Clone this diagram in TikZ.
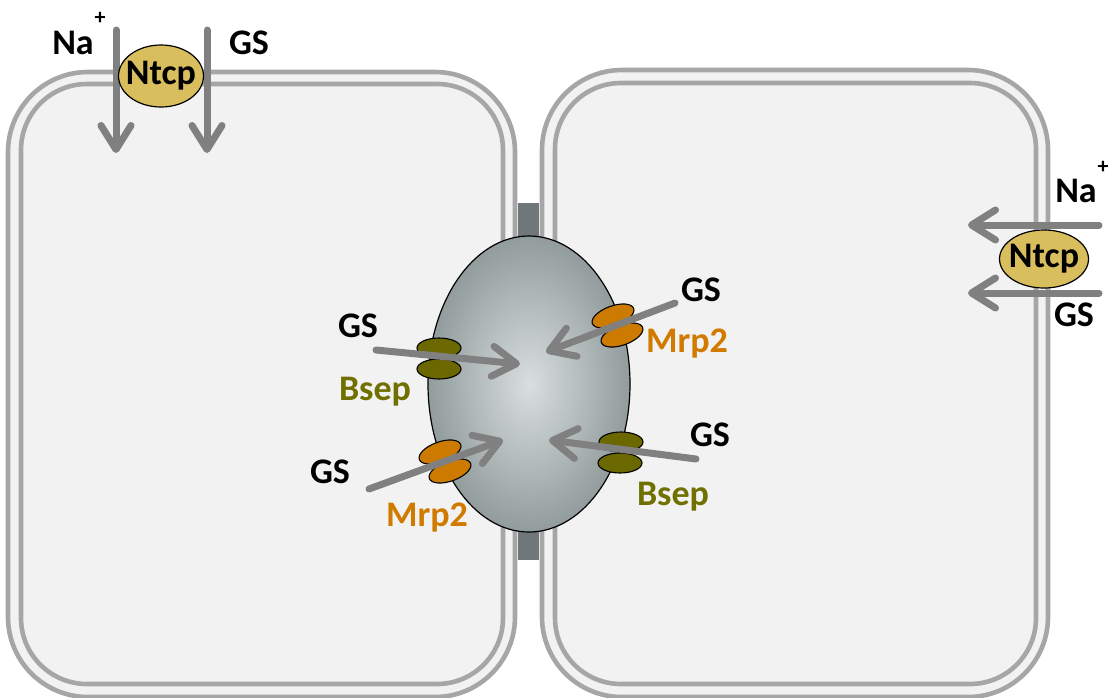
\documentclass[tikz,border=0pt]{standalone}
\usepackage{fontspec}
\setmainfont{Carlito}
\usetikzlibrary{arrows.meta,shapes.geometric}
\definecolor{cellfill}{HTML}{F2F2F2}
\definecolor{membrane}{HTML}{A6A6A6}
\definecolor{junction}{HTML}{6F7778}
\definecolor{arrowgray}{HTML}{808080}
\definecolor{lumenin}{HTML}{D9DEDF}
\definecolor{lumenout}{HTML}{929C9C}
\definecolor{ntcpfill}{HTML}{D9BE5E}
\definecolor{bsepfill}{HTML}{6B6800}
\definecolor{mrpfill}{HTML}{CC7A00}
\definecolor{bseptext}{HTML}{707000}
\definecolor{mrptext}{HTML}{D07A00}
\tikzset{
  membr/.style={draw=membrane, line width=4.6pt, fill=cellfill},
  flow/.style={draw=arrowgray, line width=7pt, line cap=round,
    -{Straight Barb[length=24pt, width=30pt, round]}},
  lbl/.style={font=\fontsize{36}{40}\selectfont\bfseries, inner sep=0pt},
  plus/.style={font=\fontsize{22}{24}\selectfont\bfseries, inner sep=0pt},
  ntcp/.style={ellipse, draw=black, line width=1.2pt, fill=ntcpfill,
    inner xsep=-20pt, inner ysep=-10pt,
    font=\fontsize{36}{40}\selectfont\bfseries},
  bsep/.style={ellipse, draw=black, line width=1.1pt, fill=bsepfill, inner sep=0pt,
    minimum width=44pt, minimum height=20pt},
  mrp/.style={ellipse, draw=black, line width=1.1pt, fill=mrpfill, inner sep=0pt,
    minimum width=44pt, minimum height=20pt},
}
\begin{document}
\begin{tikzpicture}[x=1pt, y=-1pt]
\useasboundingbox (0,0) rectangle (1108,697);
\begin{scope}
\clip (0,0) rectangle (1108,697);
% left hepatocyte: outer and inner membrane
\draw[membr, rounded corners=80pt] (8,72) rectangle (515,697);
\draw[membr, rounded corners=66pt] (21,84) rectangle (503,684);
% right hepatocyte
\draw[membr, rounded corners=80pt] (542,70) rectangle (1048,697);
\draw[membr, rounded corners=66pt] (555,83) rectangle (1036,684);
% tight junction band between the cells
\fill[junction] (518,203) rectangle (539,560);
\end{scope}

% bile canaliculus
\path[draw=black, line width=1.2pt, inner color=lumenin, outer color=lumenout]
  (529,384) ellipse (101 and 148);

% canalicular transporters
\node[bsep] (bsepLa) at (439,348) {};
\node[bsep] (bsepLb) at (439,369) {};
\node[mrp, rotate=20] (mrpLa) at (440,452) {};
\node[mrp, rotate=20] (mrpLb) at (450,471) {};
\node[mrp, rotate=20] (mrpRa) at (613,316) {};
\node[mrp, rotate=20] (mrpRb) at (622,335) {};
\node[bsep] (bsepRa) at (621,442) {};
\node[bsep] (bsepRb) at (620,463) {};

% transport into the canaliculus
\coordinate (gsA0) at (376,350);  \coordinate (gsA1) at (520,364);
\coordinate (gsB0) at (369,489);  \coordinate (gsB1) at (503,440);
\coordinate (gsC0) at (675,303);  \coordinate (gsC1) at (546,352);
\coordinate (gsD0) at (696,459);  \coordinate (gsD1) at (549,440);
\draw[flow] (gsA0) -- (gsA1);
\draw[flow] (gsB0) -- (gsB1);
\draw[flow] (gsC0) -- (gsC1);
\draw[flow] (gsD0) -- (gsD1);

\node[lbl] (gsA) at (358,326) {GS};
\node[lbl, text=bseptext] (bsepLtxt) at (375,392) {Bsep};
\node[lbl] (gsB) at (330,472) {GS};
\node[lbl, text=mrptext] (mrpLtxt) at (427,518) {Mrp2};
\node[lbl] (gsC) at (701,290) {GS};
\node[lbl, text=mrptext] (mrpRtxt) at (687,344) {Mrp2};
\node[lbl] (gsD) at (710,435) {GS};
\node[lbl, text=bseptext] (bsepRtxt) at (673,497) {Bsep};

% basolateral uptake, left cell
\coordinate (naT0) at (116,30);  \coordinate (naT1) at (116,153);
\coordinate (gsT0) at (207,30);  \coordinate (gsT1) at (207,153);
\draw[flow] (naT0) -- (naT1);
\draw[flow] (gsT0) -- (gsT1);
\node[ntcp, minimum width=85pt, minimum height=62pt] (ntcpL) at (161,76) {Ntcp};
\node[lbl] (naL) at (73,43) {Na};
\node[plus] (plusL) at (100,18) {+};
\node[lbl] (gsL) at (249,43) {GS};

% basolateral uptake, right cell
\coordinate (naR0) at (1099,225);  \coordinate (naR1) at (968,225);
\coordinate (gsR0) at (1099,293);  \coordinate (gsR1) at (968,293);
\draw[flow] (naR0) -- (naR1);
\draw[flow] (gsR0) -- (gsR1);
\node[ntcp, minimum width=89pt, minimum height=58pt] (ntcpR) at (1044,259) {Ntcp};
\node[lbl] (naR) at (1076,191) {Na};
\node[plus] (plusR) at (1103,167) {+};
\node[lbl] (gsR) at (1074,315) {GS};
\end{tikzpicture}
\end{document}
